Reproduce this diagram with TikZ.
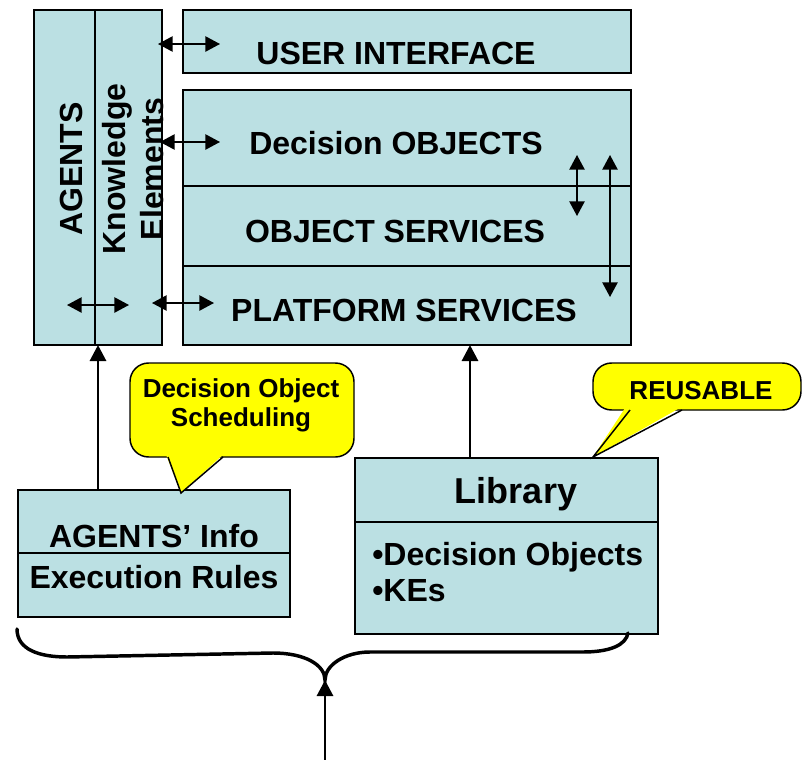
\documentclass[tikz,border=0pt]{standalone}
\usepackage{fontspec}
\setmainfont{Liberation Sans}
\usetikzlibrary{arrows.meta,calc}
\definecolor{boxfill}{HTML}{BBE0E3}
\definecolor{callfill}{HTML}{FFFF00}
\begin{document}
\begin{tikzpicture}[x=0.75pt,y=-0.75pt,
  box/.style={draw=black, fill=boxfill, line width=1.7pt, inner sep=0pt, outer sep=0pt},
  divline/.style={line width=1.1pt},
  lbl/.style={font=\fontsize{24}{29}\selectfont\bfseries, inner sep=0pt, anchor=base},
  biglbl/.style={font=\fontsize{27}{32}\selectfont\bfseries, inner sep=0pt, anchor=base},
  calltxt/.style={font=\fontsize{19.5}{22}\selectfont\bfseries, inner sep=0pt, anchor=base},
  dbl/.style={line width=1.1pt, {Triangle[length=11pt,width=11.5pt]}-{Triangle[length=11pt,width=11.5pt]}},
  uparrow/.style={line width=2.2pt, -{Triangle[length=12pt,width=12pt]}},
  callbox/.style={draw=black, fill=callfill, line width=1.1pt, rounded corners=14pt, inner sep=0pt},
  bracestyle/.style={line width=2.6pt, line cap=round}
]
\useasboundingbox (0,0) rectangle (804,760);

% boxes
\node[box, minimum width=128*0.75pt, minimum height=335*0.75pt] (agents) at (98,177.5) {};
\node[box, minimum width=448*0.75pt, minimum height=63*0.75pt] (ui) at (407,41.5) {};
\node[box, minimum width=448*0.75pt, minimum height=255*0.75pt] (core) at (407,217.5) {};
\node[box, minimum width=272*0.75pt, minimum height=127*0.75pt] (info) at (154,553.5) {};
\node[box, minimum width=303*0.75pt, minimum height=176*0.75pt] (lib) at (506.5,546) {};

% dividers
\draw[divline] (95,10) -- (95,345);
\draw[divline] (183,186) -- (631,186);
\draw[divline] (183,266) -- (631,266);
\draw[divline] (18,553) -- (290,553);
\draw[divline] (355,522) -- (658,522);

% texts
\node[lbl, rotate=90] (tagents) at (82,169) {AGENTS};
\node[lbl, rotate=90] (tknow) at (125,169) {Knowledge};
\node[lbl, rotate=90] (telem) at (163,169) {Elements};
\node[lbl] (tui) at (396,64) {USER INTERFACE};
\node[lbl] (tdo) at (396,154) {Decision OBJECTS};
\node[lbl] (tos) at (395,242) {OBJECT SERVICES};
\node[lbl] (tps) at (404,321) {PLATFORM SERVICES};
\node[lbl] (tinfo) at (154,547) {AGENTS’ Info};
\node[lbl] (trules) at (154,588) {Execution Rules};
\node[biglbl] (tlib) at (516,503) {Library};
\node[lbl, anchor=base west] (tdobj) at (372,565) {•Decision Objects};
\node[lbl, anchor=base west] (tkes) at (372,601) {•KEs};

% double arrows
\coordinate (a1l) at (158,44);  \coordinate (a1r) at (220,44);
\coordinate (a2l) at (160,142); \coordinate (a2r) at (220,142);
\coordinate (a3l) at (152,303); \coordinate (a3r) at (214,303);
\coordinate (a4l) at (67,305);  \coordinate (a4r) at (129,305);
\coordinate (v1t) at (577,155); \coordinate (v1b) at (577,216);
\coordinate (v2t) at (610,155); \coordinate (v2b) at (610,297);
\draw[dbl] (a1l) -- (a1r);
\draw[dbl] (a2l) -- (a2r);
\draw[dbl] (a3l) -- (a3r);
\draw[dbl] (a4l) -- (a4r);
\draw[dbl] (v1t) -- (v1b);
\draw[dbl] (v2t) -- (v2b);

% up arrows
\draw[uparrow] (agents.south |- info.north) -- (agents.south);
\coordinate (libtop) at (470,458);
\draw[uparrow] (libtop) -- (libtop |- core.south);

% brace
\coordinate (bl) at (17,629);
\coordinate (br) at (628,633);
\coordinate (bm) at (325,680);
\coordinate (src) at (325,762);
\draw[bracestyle] (bl) .. controls (17,650) and (40,657) .. (67,657) -- (273,653)
  .. controls (305,653) and (325,665) .. (bm)
  .. controls (325,665) and (345,652) .. (370,652) -- (583,652)
  .. controls (610,652) and (626,645) .. (br);
\draw[uparrow] (src) -- (bm);

% callouts
\node[callbox, minimum width=224*0.75pt, minimum height=94*0.75pt] (dos) at (242,410) {};
\fill[callfill] (165,452) -- (181,493) -- (226,452) -- cycle;
\draw[line width=1.1pt, line join=miter] (168,457) -- (181,493) -- (223,457);
\node[calltxt] (tdos1) at (241,397) {Decision Object};
\node[calltxt] (tdos2) at (241,426) {Scheduling};

\node[callbox, minimum width=208*0.75pt, minimum height=47*0.75pt] (reu) at (697,386.5) {};
\fill[callfill] (627,405) -- (593,457) -- (685,405) -- cycle;
\draw[line width=1.1pt, line join=miter] (630,410) -- (593,457) -- (682,410);
\node[calltxt] (treu) at (701,399) {REUSABLE};
\end{tikzpicture}
\end{document}
